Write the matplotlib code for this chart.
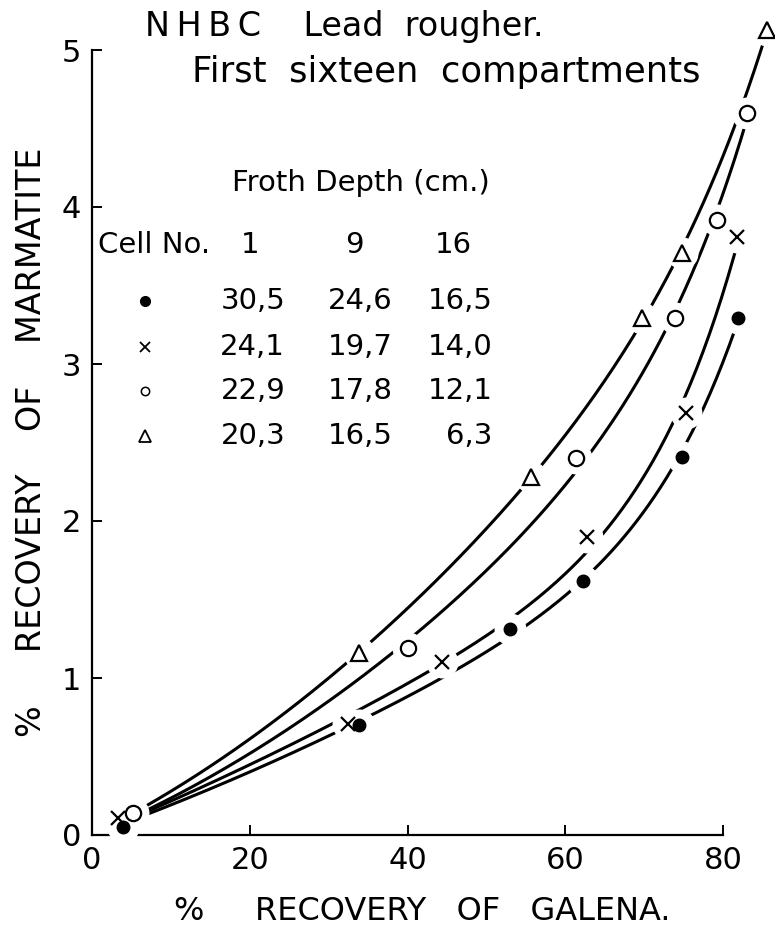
import matplotlib
matplotlib.use("Agg")
import matplotlib.pyplot as plt
import numpy as np

# % recovery of galena (x) against % recovery of marmatite (y)
dot_x = [3.9, 33.9, 53.0, 62.2, 74.8, 81.9]
dot_y = [0.05, 0.70, 1.31, 1.62, 2.41, 3.29]
cross_x = [3.3, 32.4, 44.4, 62.8, 75.3, 81.8]
cross_y = [0.11, 0.71, 1.10, 1.90, 2.69, 3.81]
circle_x = [5.2, 40.0, 61.3, 73.9, 79.2, 83.0]
circle_y = [0.14, 1.19, 2.40, 3.29, 3.92, 4.60]
tri_x = [33.9, 55.7, 69.7, 74.8, 85.6]
tri_y = [1.16, 2.28, 3.29, 3.71, 5.13]

# froth depth (cm.) table
cell_numbers = ["1", "9", "16"]
depth_dot = ["30,5", "24,6", "16,5"]
depth_cross = ["24,1", "19,7", "14,0"]
depth_circle = ["22,9", "17,8", "12,1"]
depth_tri = ["20,3", "16,5", "6,3"]

x_ticks = [0, 20, 40, 60, 80]
y_ticks = [0, 1, 2, 3, 4, 5]

FONT = "DejaVu Sans"
FS = 21


def basis(x):
    u = np.asarray(x, dtype=float) / 80
    return np.column_stack([u, u ** 2, u ** 8])


def fitted_curve(xs, ys, n=200):
    """Smooth convex trend line through the measured points (passes near origin)."""
    coef, *_ = np.linalg.lstsq(basis(xs), np.asarray(ys, dtype=float), rcond=None)
    xx = np.linspace(min(xs), max(xs), n)
    return xx, basis(xx) @ coef


fig = plt.figure(figsize=(7.75, 9.33), dpi=100)
ax = fig.add_axes([92 / 775, 1 - 835 / 933, 631 / 775, 785 / 933])
ax.set_xlim(0, 80)
ax.set_ylim(0, 5)

for side in ("top", "right"):
    ax.spines[side].set_visible(False)
for side in ("left", "bottom"):
    ax.spines[side].set_linewidth(1.6)

ax.set_xticks(x_ticks)
ax.set_yticks(y_ticks)
ax.tick_params(direction="in", length=7, width=1.4, labelsize=22, pad=8)
for lab in ax.get_xticklabels() + ax.get_yticklabels():
    lab.set_family(FONT)

# curves (triangle curve starts from the common point near the origin)
series = [
    (dot_x, dot_y),
    (cross_x, cross_y),
    (circle_x, circle_y),
    ([circle_x[0]] + tri_x, [circle_y[0]] + tri_y),
]
for xs, ys in series:
    xx, yy = fitted_curve(xs, ys)
    ax.plot(xx, yy, color="black", lw=2.2, zorder=2, clip_on=False)

# white halos so the lines break around the symbols
for xs, ys in [(dot_x, dot_y), (cross_x, cross_y), (circle_x, circle_y), (tri_x, tri_y)]:
    ax.plot(xs, ys, "o", ms=22, color="white", zorder=3, clip_on=False)

ax.plot(dot_x, dot_y, "o", ms=9, mfc="black", mec="black", zorder=4, clip_on=False)
ax.plot(cross_x, cross_y, "x", ms=10, mew=1.6, color="black", zorder=4, clip_on=False)
ax.plot(circle_x, circle_y, "o", ms=11, mfc="white", mec="black", mew=1.6,
        zorder=4, clip_on=False)
ax.plot(tri_x, tri_y, "^", ms=11, mfc="white", mec="black", mew=1.6,
        zorder=4, clip_on=False)

# titles
ax.text(6.7, 5.15, "N\u2009H\u2009B\u2009C    Lead  rougher.", fontsize=24,
        family=FONT, va="center")
ax.text(12.7, 4.86, "First  sixteen  compartments", fontsize=25.5, family=FONT,
        va="center")

# froth depth table
ax.text(17.7, 4.15, "Froth Depth (cm.)", fontsize=FS, family=FONT, va="center")
ax.text(0.8, 3.76, "Cell No.", fontsize=FS, family=FONT, va="center")
for xc, lab in zip([20.0, 33.3, 45.8], cell_numbers):
    ax.text(xc, 3.76, lab, fontsize=FS, family=FONT, va="center", ha="center")

row_y = [3.40, 3.11, 2.83, 2.54]
col_right = [24.5, 38.1, 50.8]
rows = [depth_dot, depth_cross, depth_circle, depth_tri]
for ry, row in zip(row_y, rows):
    for xr, val in zip(col_right, row):
        ax.text(xr, ry, val, fontsize=FS, family=FONT, va="center", ha="right")

mx = 6.7
ax.plot(mx, row_y[0], "o", ms=7, color="black", clip_on=False)
ax.plot(mx, row_y[1], "x", ms=7, mew=1.3, color="black", clip_on=False)
ax.plot(mx, row_y[2], "o", ms=6, mfc="white", mec="black", mew=1.1, clip_on=False)
ax.plot(mx, row_y[3], "^", ms=8, mfc="white", mec="black", mew=1.3, clip_on=False)

# axis labels
fig.text(422 / 775, 1 - 912 / 933, "%     RECOVERY   OF   GALENA.", fontsize=23,
         family=FONT, ha="center", va="center")
fig.text(32 / 775, 1 - 442 / 933, "%     RECOVERY    OF    MARMATITE", fontsize=24,
         family=FONT, ha="center", va="center", rotation=90)

fig.savefig("out.png", dpi=100, facecolor="white")
